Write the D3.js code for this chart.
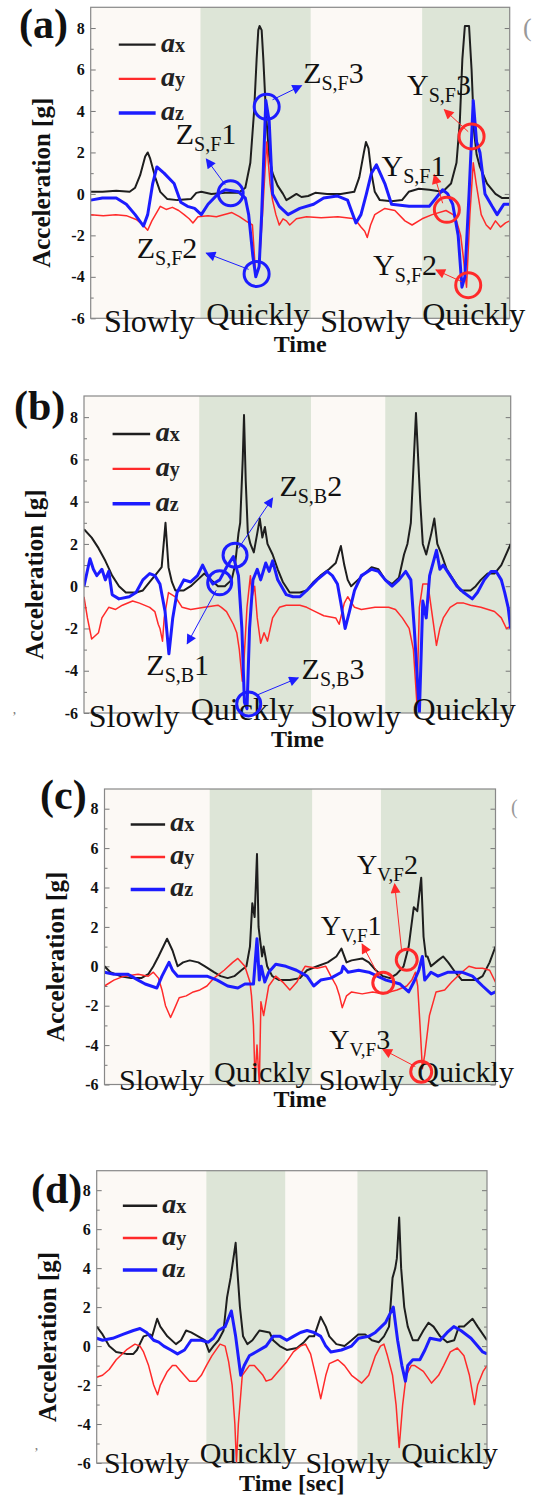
<!DOCTYPE html>
<html><head><meta charset="utf-8">
<script src="https://cdn.jsdelivr.net/npm/d3@7"></script>
<style>body{margin:0;background:#fff}</style>
</head><body>
<svg id="chart" width="534" height="1497" xmlns="http://www.w3.org/2000/svg"></svg>
<script>
// ---------------- DATA ----------------
const yTicks = [-6,-4,-2,0,2,4,6,8];
const yMinor = [-5,-3,-1,1,3,5,7];
const panelIds = ["(a)","(b)","(c)","(d)"];
const phaseNames = ["Slowly","Quickly","Slowly","Quickly"];
const xTitles = ["Time","Time","Time","Time [sec]"];
const legendSubs = ["x","y","z"];

// panel (a)
const aBands = [[26.2,52.5],[79.1,100]];
const aPhaseT = [3.2,27.6,54.8,79.1];
const aAx = [[0,0.1],[2.8,0.1],[6.1,0.15],[9.3,0.1],[10.6,0.3],[11.8,0.9],[13.0,1.8],[13.6,2.0],[14.2,1.7],[15.4,0.8],[16.6,0.1],[18.3,-0.25],[20.7,-0.3],[23.9,-0.25],[25.2,0.05],[26.4,0.1],[28.8,0.0],[32.1,0.05],[35.3,0.05],[36.9,0.3],[38.1,1.5],[39.0,4.0],[39.6,6.5],[40.0,7.9],[40.3,8.1],[40.8,7.9],[41.2,6.5],[41.8,4],[42.6,1.8],[43.4,1.0],[44.6,0.4],[45.9,0.0],[46.7,-0.3],[47.5,-0.2],[49.1,0.0],[50.3,-0.15],[51.9,-0.1],[53.6,0.05],[56.4,0.0],[59.7,0.0],[62.9,0.1],[64.1,0.8],[65.2,2.0],[65.7,2.5],[66.3,2.2],[67.0,1.0],[67.8,0.1],[69.0,-0.3],[71.8,-0.35],[74.3,-0.3],[75.9,0.1],[78.3,0.25],[80.8,0.2],[84.0,0.1],[86.0,0.5],[87.3,1.5],[88.1,3.5],[88.7,6.5],[89.3,8.1],[90.3,8.1],[90.9,6.0],[91.5,3.0],[92.1,1.9],[92.9,1.3],[94.6,0.5],[96.6,0.0],[98.2,-0.2],[100,-0.2]];
const aAy = [[0,-1.0],[3,-1.05],[6,-1.0],[8.5,-1.05],[11,-1.25],[12.5,-1.5],[13.6,-1.75],[14.6,-1.3],[16.6,-0.6],[18,-0.75],[19.5,-0.65],[21,-0.8],[22.3,-1.0],[23.5,-1.2],[24.4,-1.4],[25.6,-1.1],[28,-1.05],[30,-1.1],[33.7,-0.9],[35.5,-1.1],[37,-1.3],[38.6,-1.5],[39.4,-4.0],[40.2,-3.5],[41.0,-1.0],[42.0,2.5],[42.8,0.5],[43.4,-0.3],[44.2,-1.0],[45.0,-1.5],[45.9,-1.2],[46.7,-1.3],[47.5,-1.5],[49.1,-1.2],[51.5,-1.1],[55,-1.15],[59,-1.1],[63,-1.2],[64.5,-1.6],[65.4,-1.8],[66.0,-2.1],[66.8,-1.5],[67.8,-1.0],[70.2,-0.7],[72.6,-0.8],[75.0,-1.3],[76.7,-1.5],[79.1,-1.2],[81.5,-1.0],[84.8,-0.8],[86.5,-1.0],[87.3,-1.3],[88.3,-2.0],[88.9,-3.0],[89.7,-4.5],[90.5,-1.0],[91.3,1.5],[92.0,0.5],[93.2,-1.0],[94.4,-1.5],[95.4,-1.7],[96.6,-1.3],[97.8,-1.6],[99,-1.4],[100,-1.3]];
const aAz = [[0,-0.3],[2.8,-0.2],[6.1,-0.2],[8.5,-0.5],[10.6,-1.0],[12.6,-1.55],[13.6,-1.0],[14.8,0.5],[15.8,1.3],[17.5,1.0],[19.9,0.5],[21.5,-0.4],[23.1,-0.6],[24.8,-0.7],[26.4,-1.0],[28.0,-0.5],[30.4,0.0],[32.1,0.2],[35.3,0.1],[36.9,-0.2],[37.7,-1.0],[38.7,-3.0],[39.4,-4.0],[40.2,-3.5],[40.8,-1.0],[41.8,4.5],[42.6,3.5],[43.4,0.0],[45.0,-0.6],[47.1,-1.0],[49.9,-0.7],[53.2,-0.5],[55.6,-0.2],[58.8,-0.1],[61.3,-0.3],[63.3,-1.4],[64.5,-1.0],[65.8,0.0],[67.0,1.0],[68.2,1.4],[70.2,0.5],[71.8,-0.5],[76.0,-0.6],[80.8,-0.6],[84.0,0.2],[85.2,0.0],[86.4,-0.5],[87.7,-2.0],[88.6,-4.5],[89.3,-4.0],[90.3,0.0],[91.3,4.5],[92.1,2.5],[92.9,2.0],[94.1,0.0],[95.8,-0.6],[97.0,-1.0],[98.6,-0.5],[100,-0.5]];
const aNotes = [
  {letter:"Z",sub:"S,F",num:"1",color:"blue",circle:[33.4,0.03],from:[32.1,0.44],to:[27.6,1.68],text:[20.3,2.42]},
  {letter:"Z",sub:"S,F",num:"2",color:"blue",circle:[39.6,-3.86],from:[37.7,-3.64],to:[27.6,-2.86],text:[11.0,-3.1]},
  {letter:"Z",sub:"S,F",num:"3",color:"blue",circle:[42.0,4.2],from:[43.4,4.54],to:[50.3,5.22],text:[50.7,5.35]},
  {letter:"Y",sub:"S,F",num:"1",color:"red",circle:[85.0,-0.77],from:[84.0,-0.45],to:[82.0,0.92],text:[69.4,0.87]},
  {letter:"Y",sub:"S,F",num:"2",color:"red",circle:[90.1,-4.4],from:[88.5,-4.23],to:[82.4,-3.67],text:[67.4,-3.9]},
  {letter:"Y",sub:"S,F",num:"3",color:"red",circle:[90.9,2.77],from:[90.1,3.0],to:[84.4,4.06],text:[75.5,4.78]}
];

// panel (b)
const bBands = [[27.0,53.2],[70.6,100]];
const bPhaseT = [1.1,25.0,53.0,77.0];
const bAx = [[0,2.7],[1.8,2.3],[3.4,1.8],[5.0,1.2],[6.6,0.5],[8.2,0.0],[9.8,-0.3],[12.2,-0.3],[13.8,-0.2],[15.4,0.2],[17.0,0.6],[18.2,0.9],[19.1,3.0],[19.8,0.9],[20.6,0.2],[21.4,-0.2],[23.4,-0.2],[25.0,0.0],[26.6,0.3],[28.2,0.6],[29.8,0.3],[31.4,0.0],[33.0,0.0],[34.6,0.3],[35.4,1.0],[36.2,2.5],[36.6,3.0],[37.2,6.0],[37.5,8.1],[37.9,5.0],[38.4,2.5],[39.0,2.0],[39.8,1.6],[40.6,2.5],[41.2,3.2],[41.8,2.3],[42.4,2.8],[43.0,2.0],[44.2,1.5],[45.4,0.8],[46.6,0.2],[48.2,-0.3],[50.6,-0.3],[52.2,-0.2],[53.8,0.2],[55.4,0.5],[57.4,0.8],[59.0,1.1],[60.2,1.9],[61.0,1.0],[61.8,0.3],[62.6,0.0],[64.2,0.3],[65.8,0.6],[67.4,0.9],[69.0,0.8],[70.6,0.3],[72.2,0.1],[73.8,0.4],[75.0,1.5],[75.8,2.0],[76.6,3.0],[77.8,8.2],[78.8,4.0],[79.4,2.0],[80.2,1.5],[81.4,2.5],[82.1,3.2],[82.8,2.0],[83.8,1.5],[85.0,0.8],[86.6,0.3],[88.2,-0.2],[90.6,-0.2],[91.8,0.0],[93.0,0.3],[94.6,0.6],[96.2,0.6],[97.8,1.0],[100,2.0]];
const bAy = [[0,-0.5],[0.8,-1.5],[1.8,-2.5],[3.4,-2.2],[4.2,-1.5],[5.8,-1.0],[7.4,-1.1],[9.0,-0.9],[11.4,-0.7],[13.0,-0.8],[15.4,-1.0],[16.6,-1.2],[17.4,-1.8],[17.8,-2.0],[18.4,-2.6],[18.8,-1.5],[19.8,-0.3],[21.4,-0.5],[23.0,-1.0],[25.0,-1.1],[28.2,-1.0],[31.4,-0.9],[32.2,-1.0],[33.4,-1.2],[35.0,-1.8],[35.8,-2.2],[36.4,-3.0],[37.1,-4.5],[37.5,-3.5],[38.2,-1.0],[39.0,0.5],[39.4,-0.5],[40.0,0.0],[40.6,-1.5],[41.4,-2.7],[42.2,-2.2],[43.0,-2.6],[44.2,-1.5],[45.8,-1.0],[47.4,-0.9],[50.6,-0.9],[52.2,-1.0],[54.2,-1.2],[56.2,-1.4],[59.0,-1.5],[59.8,-1.8],[61.0,-0.8],[61.8,-0.5],[63.4,-1.0],[65.0,-1.1],[68.2,-1.0],[71.4,-1.0],[73.0,-1.1],[74.6,-1.5],[76.2,-2.0],[77.2,-3.0],[78.0,-5.5],[78.6,-1.0],[79.4,0.1],[80.6,0.1],[82.6,-2.8],[83.4,-2.0],[84.2,-1.5],[85.8,-1.0],[87.4,-0.8],[89.0,-0.8],[90.6,-0.9],[93.0,-1.0],[96.2,-1.2],[97.8,-1.5],[99.0,-2.0],[100,-1.9]];
const bAz = [[0,0.0],[1.4,1.3],[2.2,0.8],[3.0,0.5],[4.2,0.8],[5.0,0.3],[5.8,0.7],[6.6,-0.4],[8.2,-0.6],[10.6,-0.5],[12.2,-0.3],[13.8,0.3],[15.4,0.6],[16.6,0.5],[17.8,0.1],[19.0,-1.2],[19.9,-3.2],[20.8,-1.5],[21.8,-0.3],[23.4,0.3],[25.0,0.2],[26.6,0.5],[27.8,1.0],[29.0,0.5],[30.2,0.1],[31.8,0.3],[33.4,0.9],[35.0,1.4],[36.2,0.5],[37.0,-2.0],[37.6,-5.5],[38.2,-5.8],[38.8,-2.0],[39.6,0.3],[40.6,0.8],[41.4,0.3],[42.6,1.1],[43.4,0.7],[44.2,1.2],[45.4,0.3],[47.4,-0.4],[49.0,-0.5],[50.6,-0.5],[52.2,-0.2],[54.6,0.3],[57.0,0.7],[58.2,0.5],[59.4,0.1],[60.2,-0.8],[61.2,-2.0],[62.2,-1.2],[63.4,-0.2],[65.0,0.5],[67.4,0.8],[69.0,0.7],[70.6,0.3],[72.2,0.0],[73.8,0.3],[75.4,0.7],[76.6,0.3],[77.4,-2.0],[78.6,-6.0],[79.4,-0.7],[80.2,-1.5],[81.0,0.5],[82.6,1.7],[83.4,0.8],[84.2,1.0],[85.8,0.5],[87.4,0.0],[89.0,-0.3],[91.0,-0.6],[92.2,-0.3],[93.8,0.3],[95.4,0.7],[96.6,0.7],[97.8,0.3],[98.6,-0.3],[99.4,-1.0],[100,-2.0]];
const bNotes = [
  {letter:"Z",sub:"S,B",num:"1",color:"blue",circle:[31.8,0.16],from:[31.0,-0.19],to:[24.2,-2.72],text:[14.6,-4.18]},
  {letter:"Z",sub:"S,B",num:"2",color:"blue",circle:[35.4,1.47],from:[36.2,1.79],to:[44.2,4.17],text:[45.8,4.28]},
  {letter:"Z",sub:"S,B",num:"3",color:"blue",circle:[38.6,-5.57],from:[40.2,-5.18],to:[50.2,-4.34],text:[51.0,-4.38]}
];

// panel (c)
const cBands = [[26.9,53.1],[70.7,100]];
const cPhaseT = [3.7,28.0,54.8,80.0];
const cAx = [[0,0.0],[1.5,-0.3],[4.1,-0.5],[6.8,-0.6],[9.4,-0.6],[11.2,-0.4],[12.5,0.0],[13.8,0.5],[16.0,1.4],[17.4,0.8],[18.7,0.0],[20.1,0.2],[21.8,0.3],[24.0,0.2],[25.7,0.0],[28.0,-0.3],[29.7,-0.5],[31.5,-0.6],[33.2,-0.5],[35.0,-0.2],[36.3,0.0],[37.2,1.0],[37.8,3.2],[38.4,2.5],[39.0,5.7],[39.4,2.0],[40.3,0.5],[40.7,1.0],[41.6,0.0],[42.9,-0.5],[44.7,-0.7],[47.4,-0.7],[50.0,-0.6],[51.8,-0.2],[54.4,0.0],[57.1,0.2],[59.3,0.5],[60.6,0.9],[61.9,0.2],[63.2,0.3],[65.9,0.4],[67.6,0.2],[69.4,-0.2],[71.2,-0.5],[73.0,-0.6],[74.7,-0.4],[76.5,0.0],[77.8,1.0],[79.1,3.0],[80.0,2.8],[81.0,4.5],[81.6,1.5],[82.2,0.5],[82.6,0.5],[83.5,0.0],[85.3,0.3],[86.6,0.5],[87.9,0.2],[89.7,-0.3],[91.4,-0.7],[95.0,-0.7],[96.7,-0.5],[98.5,0.2],[100,1.0]];
const cAy = [[0,-1.0],[2.4,-0.7],[5.0,-0.5],[8.6,-0.4],[11.2,-0.5],[12.5,-0.3],[13.8,-0.6],[14.7,-1.2],[15.6,-2.0],[16.9,-2.6],[17.8,-2.2],[19.1,-1.6],[20.9,-1.5],[22.7,-1.3],[24.4,-1.2],[26.2,-1.0],[28.0,-0.6],[30.6,-0.2],[32.8,0.2],[34.1,0.4],[35.9,0.0],[37.2,-0.8],[37.6,-1.5],[38.1,-3.0],[38.5,-5.8],[39.0,-4.0],[39.6,-6.0],[40.0,-1.8],[40.7,-2.5],[42.0,-1.0],[43.8,-0.5],[45.6,-0.8],[47.4,-1.2],[49.2,-0.8],[50.4,-0.3],[51.3,0.0],[54.4,-0.1],[56.6,0.0],[57.9,-0.5],[59.3,-1.0],[60.1,-1.5],[60.8,-2.1],[61.9,-1.5],[63.2,-1.3],[65.9,-1.4],[68.6,-1.3],[71.2,-1.4],[74.8,-1.2],[77.3,-1.0],[78.6,-0.7],[79.5,-0.3],[80.1,-1.0],[80.7,-3.0],[81.3,-5.2],[81.9,-4.5],[83.1,-2.5],[84.8,-1.3],[87.0,-1.2],[88.8,-0.8],[91.4,-0.3],[93.2,0.0],[95.0,-0.1],[96.7,-0.1],[98.5,-0.2],[100,-0.8]];
const cAz = [[0,-0.3],[2.4,-0.4],[5.9,-0.4],[8.6,-0.7],[10.4,-0.9],[13.4,-1.1],[14.7,-0.5],[16.5,0.2],[17.4,-0.2],[18.7,-0.5],[22.7,-0.5],[26.2,-0.5],[28.8,-0.7],[31.5,-1.0],[34.1,-1.1],[35.9,-0.9],[38.1,-0.9],[39.0,1.4],[39.6,-0.7],[40.1,0.0],[41.0,-0.8],[42.0,-0.3],[43.8,0.1],[46.4,0.0],[49.1,-0.2],[51.8,-0.5],[53.5,-1.0],[55.3,-0.7],[57.9,-0.6],[60.6,-0.3],[61.0,0.0],[62.3,-0.3],[65.0,-0.2],[67.6,-0.3],[72.0,-0.7],[73.8,-0.8],[75.6,-0.9],[77.8,-1.3],[79.1,-0.8],[80.4,-0.2],[81.3,0.5],[81.9,-0.7],[83.5,-0.3],[85.3,-0.5],[87.9,-0.3],[91.4,-0.3],[94.1,-0.5],[96.7,-1.0],[98.9,-1.4],[100,-1.3]];
const cNotes = [
  {letter:"Y",sub:"V,F",num:"1",color:"red",circle:[71.3,-0.84],from:[70.3,-0.54],to:[65.9,1.12],text:[55.3,1.6]},
  {letter:"Y",sub:"V,F",num:"2",color:"red",circle:[77.3,0.33],from:[76.0,0.77],to:[74.2,4.18],text:[64.6,4.7]},
  {letter:"Y",sub:"V,F",num:"3",color:"red",circle:[81.0,-5.35],from:[79.5,-5.09],to:[71.2,-4.22],text:[57.5,-4.18]}
];

// panel (d)
const dBands = [[28.1,48.3],[66.8,100]];
const dPhaseT = [1.9,26.4,53.5,78.0];
const dAx = [[0,1.0],[1.5,0.6],[3.2,0.0],[5.0,-0.3],[7.6,-0.4],[9.4,-0.4],[10.3,-0.2],[12.0,0.5],[13.7,0.6],[14.2,0.5],[15.5,1.4],[16.3,1.0],[18.1,0.5],[20.3,0.1],[21.6,0.3],[22.9,0.8],[24.2,0.7],[26.0,0.5],[27.7,0.3],[28.8,-0.3],[29.9,0.0],[31.2,0.3],[32.5,0.8],[33.4,2.5],[34.3,3.5],[35.6,5.3],[36.0,4.0],[36.7,2.0],[37.5,0.5],[38.6,0.1],[39.9,0.3],[41.7,0.8],[44.3,0.7],[45.2,0.3],[46.9,0.0],[48.7,-0.2],[51.3,-0.1],[53.1,0.2],[54.4,0.5],[55.7,0.5],[57.4,1.5],[58.7,1.0],[59.6,0.5],[61.4,0.1],[63.5,0.0],[65.3,0.3],[67.0,0.6],[68.8,0.6],[70.5,0.3],[72.3,0.2],[73.6,0.5],[74.9,1.0],[75.8,3.5],[76.5,4.0],[76.9,4.5],[77.5,6.6],[78.0,4.0],[78.8,2.0],[79.7,1.0],[81.0,0.3],[82.3,0.3],[83.7,0.8],[85.0,1.2],[86.3,1.0],[88.0,0.5],[89.8,0.2],[91.6,0.3],[92.8,1.0],[94.1,1.0],[96.3,1.4],[97.6,1.0],[100,0.3]];
const dAy = [[0,-1.6],[1.5,-1.5],[3.2,-1.2],[5.0,-0.7],[7.6,-0.2],[9.8,0.1],[11.1,0.0],[12.0,-0.3],[13.3,-1.0],[14.6,-2.0],[15.6,-2.5],[16.3,-2.0],[18.1,-1.3],[19.4,-1.0],[20.3,-1.0],[21.6,-1.3],[23.8,-1.8],[25.5,-1.8],[26.8,-1.5],[28.1,-1.0],[29.5,-0.5],[31.6,0.1],[32.9,0.0],[33.8,-0.8],[34.7,-2.0],[35.4,-4.0],[35.8,-6.0],[36.3,-4.0],[37.3,-1.5],[39.1,-1.0],[40.4,-1.0],[42.6,-1.5],[43.4,-1.8],[44.8,-1.7],[46.5,-1.3],[48.7,-0.8],[50.4,-0.3],[52.2,0.0],[53.5,0.1],[54.8,-0.4],[56.1,-1.5],[57.4,-2.7],[58.7,-1.5],[59.6,-0.9],[61.8,-0.7],[63.5,-1.0],[65.3,-1.5],[67.9,-1.9],[69.7,-1.5],[71.4,-0.5],[72.7,0.0],[73.6,0.1],[74.5,-0.5],[75.8,-1.5],[76.7,-3.0],[77.5,-5.2],[78.4,-3.0],[79.3,-1.5],[80.6,-1.0],[81.5,-1.0],[83.7,-1.3],[85.8,-1.9],[87.6,-1.5],[88.9,-1.0],[90.6,-0.3],[92.4,-0.1],[94.1,-0.5],[95.5,-1.5],[96.8,-3.0],[97.6,-2.0],[99.0,-1.3],[100,-1.0]];
const dAz = [[0,0.4],[1.5,0.3],[4.1,0.4],[6.7,0.6],[9.4,0.8],[11.1,0.9],[12.8,0.7],[14.6,0.3],[15.9,0.2],[17.2,0.0],[19.0,-0.2],[20.7,-0.4],[22.5,-0.2],[24.2,0.3],[26.8,0.3],[28.6,0.2],[29.9,0.4],[31.2,0.8],[32.9,1.0],[34.5,1.8],[35.6,0.5],[36.9,-1.5],[37.8,-1.0],[39.1,-0.5],[40.8,-0.3],[43.4,0.0],[45.2,0.5],[47.0,0.5],[48.7,0.3],[50.4,0.5],[52.2,0.7],[53.9,0.8],[55.7,0.7],[57.4,0.5],[58.7,0.0],[60.0,-0.3],[62.7,-0.2],[65.3,0.0],[67.1,0.4],[69.7,0.5],[71.4,0.7],[74.0,1.2],[76.0,2.0],[77.1,0.3],[78.2,-1.0],[79.1,-1.8],[79.7,-1.0],[81.0,-0.7],[82.8,-0.7],[84.1,-0.2],[85.4,0.4],[88.0,0.3],[89.8,0.7],[91.5,1.0],[93.3,0.8],[95.9,0.4],[97.6,0.0],[98.9,-0.3],[100,-0.4]];
const dNotes = [];

// ---------------- LAYOUT ----------------
const panels = [
  {id:panelIds[0], box:{l:90.7,r:509.7,t:7.3,b:318.3}, bands:aBands, phaseT:aPhaseT, series:[aAx,aAy,aAz], notes:aNotes, title:xTitles[0], labelPos:[19,38], phaseOff:[14,7], titleOff:34, fs:{phase:32,note:30,sub:20,r:12.5}},
  {id:panelIds[1], box:{l:84,r:510.7,t:396,b:713}, bands:bBands, phaseT:bPhaseT, series:[bAx,bAy,bAz], notes:bNotes, title:xTitles[1], labelPos:[14,420], phaseOff:[14,7], titleOff:34, fs:{phase:32,note:30,sub:20,r:12}},
  {id:panelIds[2], box:{l:104.5,r:495.5,t:789,b:1084.5}, bands:cBands, phaseT:cPhaseT, series:[cAx,cAy,cAz], notes:cNotes, title:xTitles[2], labelPos:[40,809], phaseOff:[5,-3], titleOff:22, fs:{phase:30,note:28,sub:19,r:10.5}},
  {id:panelIds[3], box:{l:96.7,r:487,t:1170.7,b:1463}, bands:dBands, phaseT:dPhaseT, series:[dAx,dAy,dAz], notes:dNotes, title:xTitles[3], labelPos:[31,1203], phaseOff:[10,0], titleOff:28, fs:{phase:30,note:28,sub:19,r:10.5}}
];
const lineColors = ["#1e1e1e","#ff2a2a","#1c1cff"];
const lineWidths = [2,1.5,3];
const SERIF = "'Liberation Serif','Times New Roman',serif";

const svg = d3.select("#chart");
const defs = svg.append("defs");
["blue","red"].forEach(c => {
  defs.append("marker").attr("id","arr-"+c).attr("viewBox","0 0 10 10")
    .attr("refX",9).attr("refY",5).attr("markerWidth",11).attr("markerHeight",10)
    .attr("markerUnits","userSpaceOnUse").attr("orient","auto")
    .append("path").attr("d","M0,0L10,5L0,10Z").attr("fill", c==="blue"?"#1c1cff":"#ff2a2a");
});

panels.forEach((P, pi) => {
  const B = P.box;
  const x = d3.scaleLinear().domain([0,100]).range([B.l,B.r]);
  const y = d3.scaleLinear().domain([-6,9]).range([B.b,B.t]);
  const g = svg.append("g");
  const clipId = "clip"+pi;
  defs.append("clipPath").attr("id",clipId).append("rect")
    .attr("x",B.l).attr("y",B.t).attr("width",B.r-B.l).attr("height",B.b-B.t);

  g.append("rect").attr("x",B.l).attr("y",B.t).attr("width",B.r-B.l).attr("height",B.b-B.t).attr("fill","#fcf9f5");
  g.selectAll(".band").data(P.bands).enter().append("rect")
    .attr("x",d=>x(d[0])).attr("y",B.t).attr("width",d=>x(d[1])-x(d[0])).attr("height",B.b-B.t)
    .attr("fill","#dde5d7");

  const axL = g.append("g").attr("transform",`translate(${B.l},0)`)
    .call(d3.axisLeft(y).tickValues(yTicks).tickSize(-5).tickPadding(6).tickFormat(d=>String(d)));
  axL.select(".domain").remove();
  axL.selectAll("line").attr("stroke","#777");
  axL.selectAll("text").attr("font-family",SERIF).attr("font-weight","bold").attr("font-size",16).attr("fill","#111");
  const axLm = g.append("g").attr("transform",`translate(${B.l},0)`)
    .call(d3.axisLeft(y).tickValues(yMinor).tickSize(-3).tickFormat(""));
  axLm.select(".domain").remove(); axLm.selectAll("line").attr("stroke","#777");
  const axR = g.append("g").attr("transform",`translate(${B.r},0)`)
    .call(d3.axisRight(y).tickValues(yTicks).tickSize(-5).tickFormat(""));
  axR.select(".domain").remove(); axR.selectAll("line").attr("stroke","#777");
  const axRm = g.append("g").attr("transform",`translate(${B.r},0)`)
    .call(d3.axisRight(y).tickValues(yMinor).tickSize(-3).tickFormat(""));
  axRm.select(".domain").remove(); axRm.selectAll("line").attr("stroke","#777");

  const line = d3.line().x(d=>x(d[0])).y(d=>y(d[1]));
  const lg = g.append("g").attr("clip-path",`url(#${clipId})`);
  P.series.forEach((s,si) => {
    lg.append("path").datum(s).attr("d",line).attr("fill","none")
      .attr("stroke",lineColors[si]).attr("stroke-width",lineWidths[si]).attr("stroke-linejoin","round");
  });

  g.append("rect").attr("x",B.l).attr("y",B.t).attr("width",B.r-B.l).attr("height",B.b-B.t)
    .attr("fill","none").attr("stroke","#888").attr("stroke-width",1.2);

  const legV = [7.2,5.55,3.9];
  legendSubs.forEach((s,i) => {
    g.append("line").attr("x1",x(6.7)).attr("x2",x(15.5)).attr("y1",y(legV[i])).attr("y2",y(legV[i]))
      .attr("stroke",lineColors[i]).attr("stroke-width",i===2?3.5:2.4);
    const t = g.append("text").attr("x",x(16.8)).attr("y",y(legV[i])+7).attr("font-family",SERIF).attr("fill","#222");
    t.append("tspan").text("a").attr("font-style","italic").attr("font-weight","bold").attr("font-size",28);
    t.append("tspan").text(s).attr("font-size",20).attr("font-weight","bold");
  });

  P.phaseT.forEach((tt,i) => {
    g.append("text").attr("x",x(tt)).attr("y",B.b + P.phaseOff[i%2])
      .attr("font-family",SERIF).attr("font-size",P.fs.phase).attr("fill","#111").text(phaseNames[i]);
  });

  g.append("text").attr("x",(B.l+B.r)/2).attr("y",B.b+P.titleOff).attr("text-anchor","middle")
    .attr("font-family",SERIF).attr("font-weight","bold").attr("font-size",24).attr("fill","#111").text(P.title);

  const yc = (B.t+B.b)/2 + 20;
  g.append("text").attr("transform",`translate(${B.l-41},${yc}) rotate(-90)`).attr("text-anchor","middle")
    .attr("font-family",SERIF).attr("font-weight","bold").attr("font-size",25).attr("fill","#111").text("Acceleration [g]");

  g.append("text").attr("x",P.labelPos[0]).attr("y",P.labelPos[1]).attr("font-family",SERIF)
    .attr("font-weight","bold").attr("font-size",42).attr("fill","#111").text(P.id);

  P.notes.forEach(n => {
    const col = n.color==="blue"?"#1c1cff":"#ff2a2a";
    g.append("line").attr("x1",x(n.from[0])).attr("y1",y(n.from[1])).attr("x2",x(n.to[0])).attr("y2",y(n.to[1]))
      .attr("stroke",col).attr("stroke-width",1).attr("marker-end",`url(#arr-${n.color})`);
    g.append("circle").attr("cx",x(n.circle[0])).attr("cy",y(n.circle[1])).attr("r",P.fs.r)
      .attr("fill","none").attr("stroke",col).attr("stroke-width",3);
    const t = g.append("text").attr("x",x(n.text[0])).attr("y",y(n.text[1])).attr("font-family",SERIF).attr("fill","#111");
    t.append("tspan").text(n.letter).attr("font-size",P.fs.note);
    t.append("tspan").text(n.sub).attr("font-size",P.fs.sub).attr("dy",7);
    t.append("tspan").text(n.num).attr("font-size",P.fs.note).attr("dy",-7);
  });
});

svg.append("text").attr("x",523).attr("y",36).attr("font-family",SERIF).attr("font-size",26).attr("fill","#999").text("(");
svg.append("text").attr("x",511).attr("y",814).attr("font-family",SERIF).attr("font-size",20).attr("fill","#999").text("(");
svg.append("text").attr("x",12).attr("y",722).attr("font-family",SERIF).attr("font-size",14).attr("fill","#777").text("\u2019");
svg.append("text").attr("x",34).attr("y",1458).attr("font-family",SERIF).attr("font-size",14).attr("fill","#777").text("\u2019");
</script>
</body></html>
